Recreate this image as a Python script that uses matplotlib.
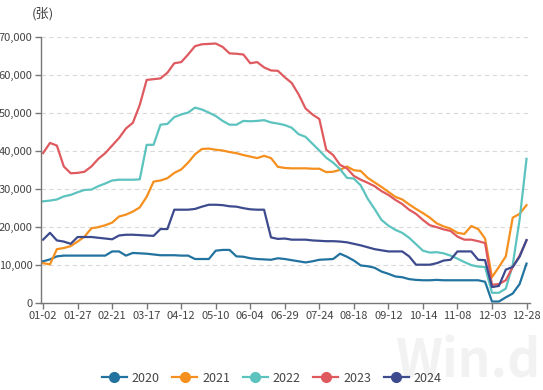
import matplotlib
matplotlib.use("Agg")
import matplotlib.pyplot as plt
from matplotlib.ticker import FuncFormatter

plt.rcParams['font.family'] = ['Noto Sans CJK SC', 'DejaVu Sans']

# tick labels, one every 5 points
tick_labels = ['01-02', '01-27', '02-21', '03-17', '04-12', '05-10', '06-04',
               '06-29', '07-24', '08-18', '09-12', '10-14', '11-08', '12-03', '12-28']

y2020 = [11, 11.5, 12.3, 12.5, 12.5, 12.5, 12.5, 12.5, 12.5, 12.5,
         13.6, 13.6, 12.5, 13.2, 13.1, 13, 12.8, 12.6, 12.6, 12.6,
         12.5, 12.5, 11.6, 11.6, 11.6, 13.8, 14, 14, 12.3, 12.2,
         11.8, 11.6, 11.5, 11.4, 11.8, 11.6, 11.3, 11, 10.7, 11,
         11.4, 11.5, 11.6, 13, 12.2, 11.2, 9.9, 9.7, 9.3, 8.3,
         7.7, 7, 6.8, 6.3, 6.1, 6, 6, 6.1, 6, 6,
         6, 6, 6, 6, 5.6, 0.4, 0.4, 1.5, 2.5, 5, 10.4]
y2021 = [10.5, 10.2, 14.2, 14.5, 15, 16.2, 17.5, 19.7, 20, 20.5,
         21.2, 22.8, 23.3, 24.1, 25.2, 28, 32, 32.3, 32.9, 34.3,
         35.2, 37, 39.2, 40.6, 40.7, 40.4, 40.2, 39.8, 39.5, 39,
         38.6, 38.2, 38.8, 38.2, 35.9, 35.6, 35.5, 35.5, 35.5, 35.4,
         35.4, 34.5, 34.6, 35.1, 36, 35, 34.8, 33, 31.8, 30.6,
         29.3, 28, 27.3, 26, 24.8, 23.7, 22.5, 21, 20.2, 19.6,
         18.5, 18.2, 20.3, 19.5, 17, 6.8, 9.5, 12.3, 22.5, 23.5, 25.8]
y2022 = [26.8, 27, 27.3, 28.1, 28.5, 29.2, 29.8, 29.9, 30.8, 31.5,
         32.3, 32.5, 32.5, 32.5, 32.6, 41.7, 41.7, 47, 47.2, 49,
         49.7, 50.2, 51.5, 51, 50.2, 49.3, 48, 47, 47, 48,
         47.9, 48, 48.2, 47.6, 47.3, 46.9, 46.2, 44.5, 43.8, 42,
         40.2, 38.3, 37, 35.3, 33, 32.8, 31, 27.5, 24.8, 21.9,
         20.4, 19.3, 18.5, 17.2, 15.5, 13.8, 13.3, 13.4, 13.1, 12.5,
         11.7, 10.8, 10, 9.6, 9.5, 2.7, 2.7, 3.8, 10, 22, 38]
y2023 = [39.5, 42.2, 41.5, 36, 34.2, 34.3, 34.6, 36, 38, 39.5,
         41.5, 43.5, 46, 47.5, 52.2, 58.8, 59, 59.2, 60.7, 63.2,
         63.5, 65.5, 67.7, 68.2, 68.3, 68.4, 67.5, 65.8, 65.7, 65.5,
         63.2, 63.5, 62.1, 61.3, 61.2, 59.5, 58, 55, 51.3, 49.7,
         48.5, 40.4, 39, 36.4, 35.5, 33.5, 32.5, 31.7, 30.8, 29.5,
         28.5, 27.2, 26.1, 24.6, 23.5, 21.9, 20.5, 20, 19.4, 19,
         17.5, 16.7, 16.7, 16.3, 15.8, 4.8, 5, 6, 9.5, 12.5, 16.5]
y2024 = [16.7, 18.5, 16.5, 16.2, 15.6, 17.4, 17.4, 17.4, 17.2, 17,
         16.8, 17.8, 18, 18, 17.9, 17.8, 17.7, 19.5, 19.5, 24.6,
         24.6, 24.6, 24.8, 25.4, 25.9, 25.9, 25.8, 25.5, 25.4, 25,
         24.7, 24.6, 24.6, 17.3, 16.9, 17, 16.7, 16.7, 16.7, 16.5,
         16.4, 16.3, 16.3, 16.2, 16, 15.6, 15.2, 14.7, 14.2, 13.9,
         13.6, 13.6, 13.6, 12.3, 10.1, 10.1, 10.1, 10.5, 11.2, 11.4,
         13.6, 13.6, 13.6, 11.4, 11.3, 4.2, 4.5, 8.8, 9.5, 12.2, 16.6]

series = [('2020', y2020, '#22739f'), ('2021', y2021, '#f5901e'),
          ('2022', y2022, '#5cc3bf'), ('2023', y2023, '#df5a5f'),
          ('2024', y2024, '#3d4b8e')]

fig = plt.figure(figsize=(5.43, 3.9), dpi=100)

# Wind watermark (very faint, behind everything)
fig.text(0.995, 0.005, 'Win.d', fontsize=37, color='#f2f2f2', fontweight='bold',
         ha='right', va='bottom', zorder=-5)

ax = fig.add_axes([0.0755, 0.223, 0.9005, 0.681])
ax.patch.set_alpha(0)

xs = list(range(len(y2020)))
for name, vals, col in series:
    ax.plot(xs, [v * 1000 for v in vals], color=col, lw=1.6, label=name,
            marker='o', markersize=7, markevery=[])

ax.set_ylim(0, 70000)
ax.set_xlim(-0.3, 70.5)
ax.set_yticks(range(0, 70001, 10000))
ax.yaxis.set_major_formatter(FuncFormatter(lambda v, p: f'{int(v):,}'))
ax.set_xticks(range(0, 71, 5))
ax.set_xticklabels(tick_labels)

for v in range(10000, 70001, 10000):
    ax.axhline(v, color='#d9d9d9', lw=0.8, ls=(0, (4, 3)), zorder=0)

for s in ['top', 'right']:
    ax.spines[s].set_visible(False)
for s in ['left', 'bottom']:
    ax.spines[s].set_color('#777777')
    ax.spines[s].set_linewidth(1.0)
ax.tick_params(axis='both', colors='#777777', labelcolor='#444444',
               labelsize=8, length=4, width=1.0, pad=2)

fig.text(0.058, 0.965, '(张)', fontsize=9.5, color='#444444', va='center')

fig.legend(loc='lower center', bbox_to_anchor=(0.5, -0.015), ncol=5,
           frameon=False, fontsize=9, handlelength=2.0, columnspacing=1.0,
           handletextpad=0.4, labelcolor='#444444')

fig.savefig('out.png', dpi=100)
